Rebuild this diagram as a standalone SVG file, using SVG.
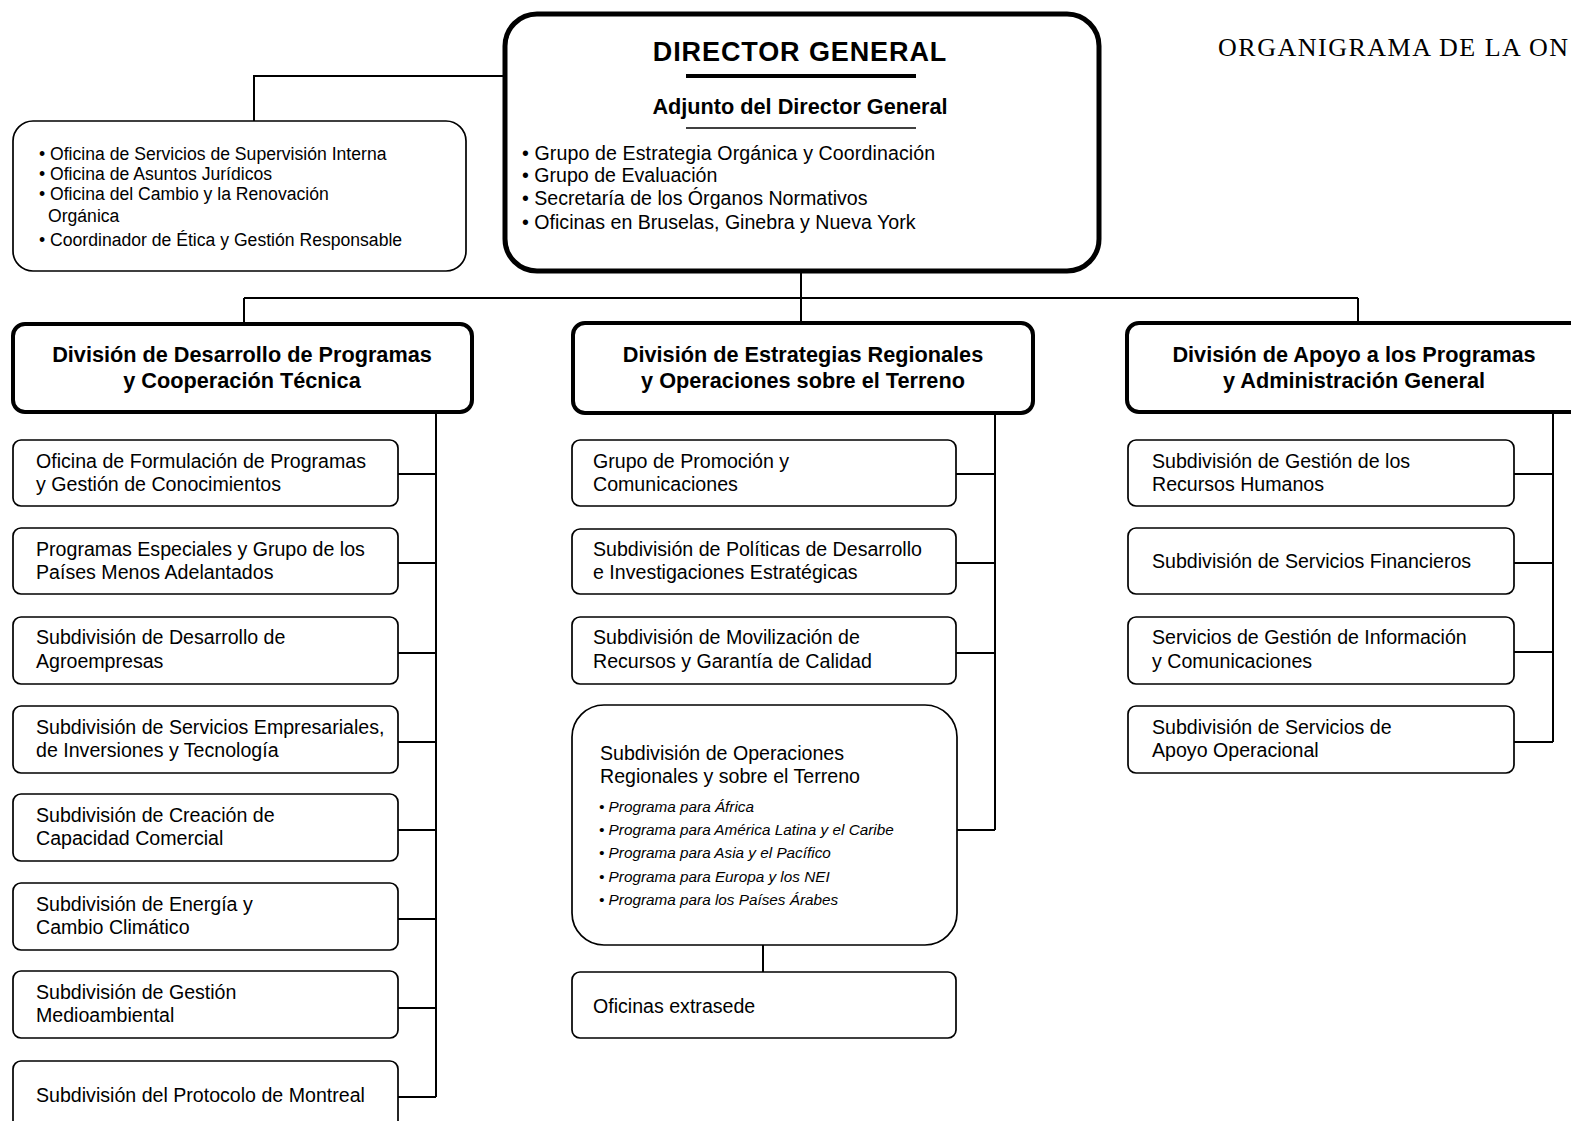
<svg xmlns="http://www.w3.org/2000/svg" width="1571" height="1121" viewBox="0 0 1571 1121">
<style>
text{font-family:"Liberation Sans",Arial,Helvetica,sans-serif;fill:#000}
.box{fill:#fff;stroke:#000;stroke-width:1.7}
.div{fill:#fff;stroke:#000;stroke-width:4}
.dir{fill:#fff;stroke:#000;stroke-width:5}
.t{font-size:19.6px}
.b{font-size:21.7px;font-weight:bold}
.tl{font-size:17.6px}
.it{font-size:15.3px;font-style:italic}
.c{text-anchor:middle}
.ttl{font-family:"Liberation Serif","Times New Roman",serif;font-size:26px}
#connectors path{fill:none;stroke:#000;stroke-width:2}
</style>
<rect width="1571" height="1121" fill="#fff"/>

<g id="connectors">
<path d="M505 76H254V121"/>
<path d="M801 272V298M244 298H1358M244 298V324M801 298V323M1358 298V323"/>
<path d="M436 412V1097M398 474H436M398 563H436M398 653H436M398 742H436M398 830H436M398 919H436M398 1008H436M398 1097H436"/>
<path d="M995 413V830M956 474H995M956 563H995M956 653H995M957 830H995M763 945V972"/>
<path d="M1553 412V742M1514 474H1553M1514 563H1553M1514 652H1553M1514 742H1553"/>
</g>

<g id="title">
<text class="ttl" x="1218" y="56" textLength="350" lengthAdjust="spacing">ORGANIGRAMA DE LA ON</text>
</g>

<g id="director">
<rect class="dir" x="505" y="14" width="594" height="257" rx="32"/>
<text x="800" y="61" class="c" style="font-size:27px;font-weight:bold;letter-spacing:0.9px">DIRECTOR GENERAL</text>
<line x1="686" y1="76" x2="916" y2="76" stroke="#000" stroke-width="4"/>
<text x="800" y="114" class="b c">Adjunto del Director General</text>
<line x1="686" y1="128" x2="916" y2="128" stroke="#000" stroke-width="1.5"/>
<text class="t" x="522" y="160" style="letter-spacing:0.1px">• Grupo de Estrategia Orgánica y Coordinación</text>
<text class="t" x="522" y="182">• Grupo de Evaluación</text>
<text class="t" x="522" y="205">• Secretaría de los Órganos Normativos</text>
<text class="t" x="522" y="229">• Oficinas en Bruselas, Ginebra y Nueva York</text>
</g>

<g id="oficinas-dg">
<rect class="box" x="13" y="121" width="453" height="150" rx="20"/>
<text class="tl" x="39" y="160">• Oficina de Servicios de Supervisión Interna</text>
<text class="tl" x="39" y="180">• Oficina de Asuntos Jurídicos</text>
<text class="tl" x="39" y="200">• Oficina del Cambio y la Renovación</text>
<text class="tl" x="48" y="222">Orgánica</text>
<text class="tl" x="39" y="246">• Coordinador de Ética y Gestión Responsable</text>
</g>

<g id="div-pct">
<rect class="div" x="13" y="324" width="459" height="88" rx="12"/>
<text class="b c" x="242" y="362">División de Desarrollo de Programas</text>
<text class="b c" x="242" y="388">y Cooperación Técnica</text>
</g>
<g id="div-rso">
<rect class="div" x="573" y="323" width="460" height="90" rx="12"/>
<text class="b c" x="803" y="362">División de Estrategias Regionales</text>
<text class="b c" x="803" y="388">y Operaciones sobre el Terreno</text>
</g>
<g id="div-psm">
<rect class="div" x="1127" y="323" width="455" height="89" rx="12"/>
<text class="b c" x="1354" y="362">División de Apoyo a los Programas</text>
<text class="b c" x="1354" y="388">y Administración General</text>
</g>

<g id="pct-1"><rect class="box" x="13" y="440" width="385" height="66" rx="8"/>
<text class="t" x="36" y="468">Oficina de Formulación de Programas</text><text class="t" x="36" y="491">y Gestión de Conocimientos</text></g>
<g id="pct-2"><rect class="box" x="13" y="528" width="385" height="66" rx="8"/>
<text class="t" x="36" y="556">Programas Especiales y Grupo de los</text><text class="t" x="36" y="579">Países Menos Adelantados</text></g>
<g id="pct-3"><rect class="box" x="13" y="617" width="385" height="67" rx="8"/>
<text class="t" x="36" y="644">Subdivisión de Desarrollo de</text><text class="t" x="36" y="668">Agroempresas</text></g>
<g id="pct-4"><rect class="box" x="13" y="706" width="385" height="67" rx="8"/>
<text class="t" x="36" y="734">Subdivisión de Servicios Empresariales,</text><text class="t" x="36" y="757">de Inversiones y Tecnología</text></g>
<g id="pct-5"><rect class="box" x="13" y="794" width="385" height="67" rx="8"/>
<text class="t" x="36" y="822">Subdivisión de Creación de</text><text class="t" x="36" y="845">Capacidad Comercial</text></g>
<g id="pct-6"><rect class="box" x="13" y="883" width="385" height="67" rx="8"/>
<text class="t" x="36" y="911">Subdivisión de Energía y</text><text class="t" x="36" y="934">Cambio Climático</text></g>
<g id="pct-7"><rect class="box" x="13" y="971" width="385" height="67" rx="8"/>
<text class="t" x="36" y="999">Subdivisión de Gestión</text><text class="t" x="36" y="1022">Medioambiental</text></g>
<g id="pct-8"><rect class="box" x="13" y="1061" width="385" height="72" rx="8"/>
<text class="t" x="36" y="1102">Subdivisión del Protocolo de Montreal</text></g>

<g id="rso-1"><rect class="box" x="572" y="440" width="384" height="66" rx="8"/>
<text class="t" x="593" y="468">Grupo de Promoción y</text><text class="t" x="593" y="491">Comunicaciones</text></g>
<g id="rso-2"><rect class="box" x="572" y="529" width="384" height="65" rx="8"/>
<text class="t" x="593" y="556">Subdivisión de Políticas de Desarrollo</text><text class="t" x="593" y="579">e Investigaciones Estratégicas</text></g>
<g id="rso-3"><rect class="box" x="572" y="617" width="384" height="67" rx="8"/>
<text class="t" x="593" y="644">Subdivisión de Movilización de</text><text class="t" x="593" y="668">Recursos y Garantía de Calidad</text></g>
<g id="rso-4"><rect class="box" x="572" y="705" width="385" height="240" rx="32"/>
<text class="t" x="600" y="760">Subdivisión de Operaciones</text><text class="t" x="600" y="783">Regionales y sobre el Terreno</text>
<text class="it" x="599" y="812">• Programa para África</text>
<text class="it" x="599" y="835">• Programa para América Latina y el Caribe</text>
<text class="it" x="599" y="858">• Programa para Asia y el Pacífico</text>
<text class="it" x="599" y="882">• Programa para Europa y los NEI</text>
<text class="it" x="599" y="905">• Programa para los Países Árabes</text></g>
<g id="rso-5"><rect class="box" x="572" y="972" width="384" height="66" rx="8"/>
<text class="t" x="593" y="1013">Oficinas extrasede</text></g>

<g id="psm-1"><rect class="box" x="1128" y="440" width="386" height="66" rx="8"/>
<text class="t" x="1152" y="468">Subdivisión de Gestión de los</text><text class="t" x="1152" y="491">Recursos Humanos</text></g>
<g id="psm-2"><rect class="box" x="1128" y="528" width="386" height="66" rx="8"/>
<text class="t" x="1152" y="568">Subdivisión de Servicios Financieros</text></g>
<g id="psm-3"><rect class="box" x="1128" y="617" width="386" height="67" rx="8"/>
<text class="t" x="1152" y="644">Servicios de Gestión de Información</text><text class="t" x="1152" y="668">y Comunicaciones</text></g>
<g id="psm-4"><rect class="box" x="1128" y="706" width="386" height="67" rx="8"/>
<text class="t" x="1152" y="734">Subdivisión de Servicios de</text><text class="t" x="1152" y="757">Apoyo Operacional</text></g>
</svg>
